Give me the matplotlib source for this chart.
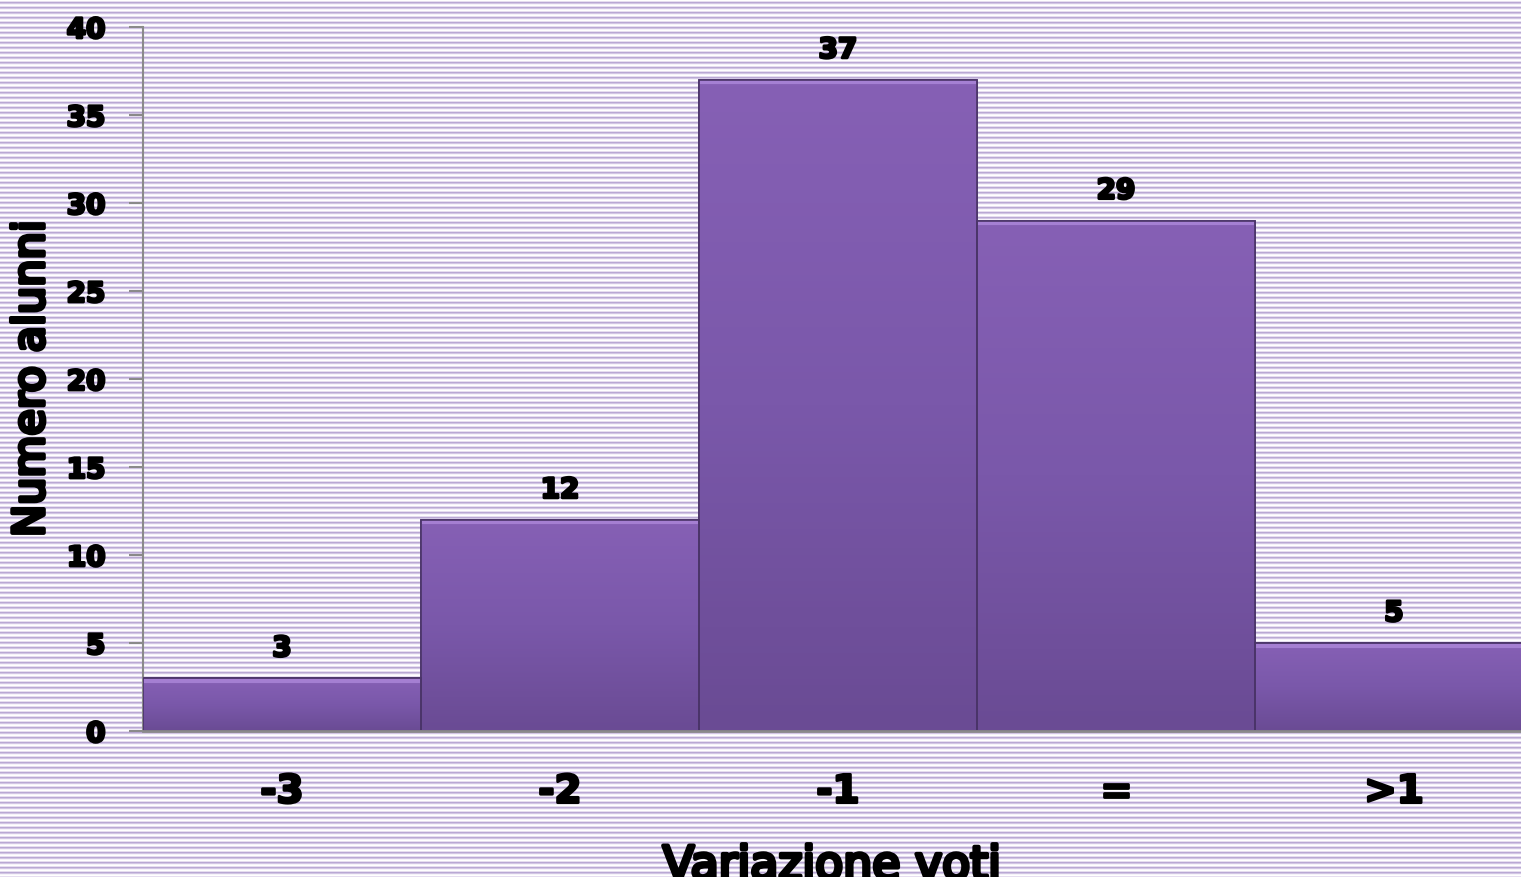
import numpy as np
import matplotlib
matplotlib.use("Agg")
import matplotlib.pyplot as plt
import matplotlib.patheffects as pe
from matplotlib.colors import to_rgb, LinearSegmentedColormap

categories = ["-3", "-2", "-1", "=", ">1"]
values = [3, 12, 37, 29, 5]
yticks = [0, 5, 10, 15, 20, 25, 30, 35, 40]

plt.rcParams['font.family'] = ['DejaVu Sans']
plt.rcParams['font.weight'] = 'bold'
heavy = [pe.withStroke(linewidth=2.0, foreground='black')]
heavier = [pe.withStroke(linewidth=3.0, foreground='black')]

fig = plt.figure(figsize=(15.21, 8.77), dpi=100)

# striped background
bgax = fig.add_axes([0, 0, 1, 1], zorder=0)
stripe = [to_rgb(c) for c in ["#ffffff", "#e6def0", "#b9a8d4", "#d2c6e4", "#f6f3fa"]]
rows = np.array([stripe[i % 5] for i in range(877)])
bg = np.repeat(rows[:, None, :], 10, axis=1)
bgax.imshow(bg, aspect='auto', interpolation='nearest')
bgax.axis('off')

ax = fig.add_axes([143/1521, 146/877, 1 - 143/1521, 704/877], zorder=1)
ax.patch.set_alpha(0)

x = np.arange(len(values))
bars = ax.bar(x, values, width=1.0, color="#7656a4", edgecolor="#4a3468", linewidth=1.2, zorder=2)

cmap = LinearSegmentedColormap.from_list("pg", ["#8660b5", "#7a58aa", "#6a4b94"])
grad = np.linspace(0, 1, 100)[:, None]
for b in bars:
    x0, y0 = b.get_x(), b.get_y()
    w, h = b.get_width(), b.get_height()
    im = ax.imshow(grad, cmap=cmap, extent=[x0, x0 + w, y0, y0 + h], aspect='auto', zorder=3)
    im.set_clip_path(b)
    ax.plot([x0 + 0.01, x0 + w - 0.01], [y0 + h - 0.15, y0 + h - 0.15], color="#b38ee0", lw=3, zorder=4, alpha=0.7)
    ax.add_patch(plt.Rectangle((x0, y0), w, h, fill=False, edgecolor="#4a3468", lw=1.2, zorder=5))

for xi, v in zip(x, values):
    ax.text(xi, v + 1.7, str(v), ha='center', va='center', fontsize=20, color='black', path_effects=heavy)

ax.set_xlim(-0.5, 4.457)
ax.set_ylim(0, 40)
ax.set_yticks(yticks)
ax.set_yticklabels([str(t) for t in yticks], fontsize=20, path_effects=heavy)
ax.set_xticks(x)
ax.set_xticklabels(categories, fontsize=28, path_effects=heavy)
ax.tick_params(axis='x', length=0, pad=30)
ax.tick_params(axis='y', length=10, width=1.5, color="#8a8a8a", pad=17, direction='out')

for s in ['top', 'right']:
    ax.spines[s].set_visible(False)
ax.spines['left'].set_color("#8a8a8a")
ax.spines['left'].set_linewidth(1.5)
ax.spines['bottom'].set_color("#8a8a8a")
ax.spines['bottom'].set_linewidth(2)
ax.spines['bottom'].set_zorder(6)

ax.set_ylabel("Numero alunni", fontsize=31, labelpad=10, path_effects=heavier)
ax.set_xlabel("Variazione voti", fontsize=33, labelpad=24, path_effects=heavier)

fig.savefig("out.png", dpi=100)
